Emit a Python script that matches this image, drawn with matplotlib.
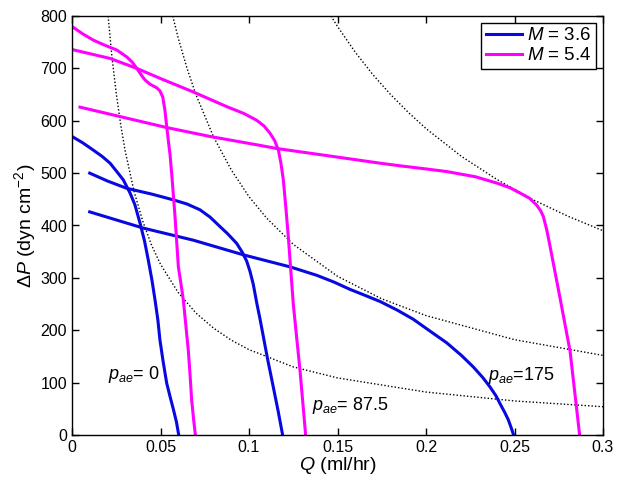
import matplotlib
matplotlib.use("Agg")
import matplotlib.pyplot as plt

plt.rcParams['font.family'] = ['Liberation Sans', 'DejaVu Sans']
plt.rcParams['mathtext.fontset'] = 'custom'
plt.rcParams['mathtext.rm'] = 'Liberation Sans'
plt.rcParams['mathtext.it'] = 'Liberation Sans:italic'
plt.rcParams['mathtext.bf'] = 'Liberation Sans:bold'

# ---- M = 3.6 (blue) curves ----
b1_q = [0, 0.006, 0.012, 0.017, 0.0215, 0.0253, 0.029, 0.0328, 0.0355, 0.0384, 0.041, 0.0431,
        0.0452, 0.0469, 0.0485, 0.0497, 0.0515, 0.0535, 0.0555, 0.0572, 0.059, 0.0603]
b1_p = [570, 558, 544, 532, 519, 503, 487, 462, 440, 405, 370, 334,
        295, 258, 220, 181, 140, 99, 72, 50, 25, 0]
b2_q = [0.01, 0.02, 0.0309, 0.045, 0.0572, 0.065, 0.0723, 0.078, 0.0836, 0.088, 0.093, 0.096,
        0.0987, 0.1006, 0.1024, 0.1045, 0.1062, 0.1081, 0.1105, 0.1137, 0.1165, 0.119]
b2_p = [500, 485, 471, 460, 449, 441, 430, 416, 398, 384, 366, 350,
        332, 312, 288, 250, 222, 188, 145, 92, 45, 0]
b3_q = [0.01, 0.0403, 0.0685, 0.0968, 0.1232, 0.1382, 0.148, 0.1571, 0.166, 0.174, 0.184, 0.1928,
        0.202, 0.2117, 0.22, 0.2267, 0.232, 0.2361, 0.2395, 0.2418, 0.2445, 0.2465, 0.248, 0.2495]
b3_p = [426, 395, 372, 344, 321, 305, 292, 278, 266, 255, 238, 221,
        199, 176, 152, 130, 110, 92, 75, 60, 43, 29, 15, 0]

# ---- M = 5.4 (magenta) curves ----
m1_q = [0, 0.006, 0.012, 0.018, 0.0253, 0.0309, 0.034, 0.0366, 0.039, 0.0412, 0.044, 0.0478,
        0.0497, 0.0513, 0.0525, 0.0535, 0.0545, 0.0554, 0.0563, 0.0572, 0.0582, 0.0601, 0.0615,
        0.0629, 0.0643, 0.0657, 0.0667, 0.0676, 0.0687, 0.0697]
m1_p = [780, 766, 754, 745, 735, 722, 712, 700, 688, 678, 670, 663,
        657, 645, 620, 589, 560, 535, 500, 461, 417, 321, 290,
        258, 210, 162, 115, 67, 30, 0]
m2_q = [0, 0.0215, 0.0366, 0.0497, 0.0685, 0.0874, 0.097, 0.1043, 0.1085, 0.1119, 0.1145, 0.1166,
        0.118, 0.1194, 0.1208, 0.1222, 0.1236, 0.125, 0.1269, 0.1288, 0.1304, 0.132]
m2_p = [736, 719, 700, 681, 655, 627, 614, 601, 590, 576, 562, 544,
        520, 487, 435, 379, 315, 251, 187, 124, 62, 0]
m3_q = [0.0045, 0.0309, 0.0535, 0.078, 0.1062, 0.1157, 0.145, 0.174, 0.1853, 0.2, 0.2117, 0.228,
        0.24, 0.2475, 0.2531, 0.2585, 0.2625, 0.2648, 0.2663, 0.2682, 0.2701, 0.2757, 0.2814, 0.2868]
m3_p = [626, 605, 587, 570, 553, 547, 533, 519, 514, 508, 503, 493,
        481, 472, 462, 452, 439, 428, 417, 392, 360, 262, 160, 0]

# ---- dotted iso-curves ----
d1_q = [0.0204, 0.0225, 0.025, 0.0275, 0.03, 0.035, 0.04, 0.045, 0.05, 0.06, 0.07, 0.08, 0.09, 0.1,
        0.125, 0.15, 0.2, 0.25, 0.3]
d1_p = [800, 724, 652, 593, 543, 466, 408, 362, 326, 272, 233, 204, 181, 163,
        130, 109, 82, 65, 54]
d2_q = [0.0569, 0.06, 0.065, 0.07, 0.08, 0.09, 0.1, 0.11, 0.125, 0.15, 0.175, 0.2, 0.25, 0.3]
d2_p = [800, 758, 700, 650, 569, 506, 455, 414, 364, 303, 260, 228, 182, 152]
d3_q = [0.1463, 0.15, 0.16, 0.17, 0.18, 0.19, 0.2, 0.22, 0.24, 0.26, 0.28, 0.3]
d3_p = [800, 780, 731, 688, 650, 616, 585, 532, 488, 450, 418, 390]

x_ticks = [0, 0.05, 0.1, 0.15, 0.2, 0.25, 0.3]
x_ticklabels = ['0', '0.05', '0.1', '0.15', '0.2', '0.25', '0.3']
y_ticks = [0, 100, 200, 300, 400, 500, 600, 700, 800]

fig = plt.figure(figsize=(6.24, 4.88), dpi=100)
ax = fig.add_axes([72/624, 1-435/488, (603-72)/624, (435-16)/488])

for q, p in [(d1_q, d1_p), (d2_q, d2_p), (d3_q, d3_p)]:
    ax.plot(q, p, color='black', linestyle=(0, (1, 1.5)), linewidth=1.0)

blue = '#0808e0'
mag = '#ff00ff'
lw = 2.2
ax.plot(b1_q, b1_p, color=blue, lw=lw, label=r'$\it{M}$ = 3.6', solid_joinstyle='round')
ax.plot(b2_q, b2_p, color=blue, lw=lw, solid_joinstyle='round')
ax.plot(b3_q, b3_p, color=blue, lw=lw, solid_joinstyle='round')
ax.plot(m1_q, m1_p, color=mag, lw=lw, label=r'$\it{M}$ = 5.4', solid_joinstyle='round')
ax.plot(m2_q, m2_p, color=mag, lw=lw, solid_joinstyle='round')
ax.plot(m3_q, m3_p, color=mag, lw=lw, solid_joinstyle='round')

ax.set_xlim(0, 0.3)
ax.set_ylim(0, 800)
ax.set_xticks(x_ticks)
ax.set_xticklabels(x_ticklabels)
ax.set_yticks(y_ticks)
ax.tick_params(direction='in', top=True, right=True, length=5, labelsize=11.5, width=1)
for s in ax.spines.values():
    s.set_linewidth(1.0)

ax.set_xlabel(r'$\it{Q}$ (ml/hr)', fontsize=14, labelpad=0)
ax.set_ylabel(r'$\Delta\it{P}$ (dyn cm$^{-2}$)', fontsize=14, labelpad=2)

ax.text(0.0203, 115, r'$p_{ae}$= 0', fontsize=13, va='center', ha='left')
ax.text(0.1356, 57, r'$p_{ae}$= 87.5', fontsize=13, va='center', ha='left')
ax.text(0.2350, 113, r'$p_{ae}$=175', fontsize=13, va='center', ha='left')

leg = ax.legend(loc='upper right', fontsize=13.5, fancybox=False, framealpha=1,
                edgecolor='black', handlelength=1.9, borderpad=0.25,
                labelspacing=0.15, handletextpad=0.3, borderaxespad=0.35)
leg.get_frame().set_linewidth(1.0)

fig.savefig('out.png', dpi=100)
